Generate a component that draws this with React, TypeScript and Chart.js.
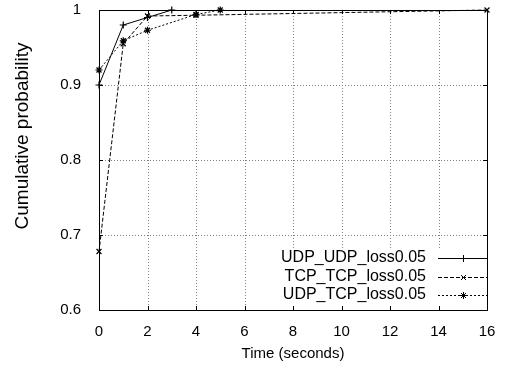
import React, { useEffect, useRef } from "react";
import { Chart, registerables } from "chart.js";

Chart.register(...registerables);

const seriesNames = ["UDP_UDP_loss0.05", "TCP_TCP_loss0.05", "UDP_TCP_loss0.05"];
const udpUdpX = [0, 1, 2, 3];
const udpUdpY = [0.9, 0.98, 0.99, 1.0];
const tcpTcpX = [0, 1, 2, 4, 16];
const tcpTcpY = [0.678, 0.955, 0.992, 0.993, 1.0];
const udpTcpX = [0, 1, 2, 4, 5];
const udpTcpY = [0.92, 0.959, 0.973, 0.994, 1.0];
const xTicks = [0, 2, 4, 6, 8, 10, 12, 14, 16];
const yTicks = [0.6, 0.7, 0.8, 0.9, 1];
const xTitle = "Time (seconds)";
const yTitle = "Cumulative probability";

const FONT = "'Liberation Sans', Arial, Helvetica, sans-serif";
const FS = 15;
const dashes = [[], [4, 2], [2, 2]];
const markers = ["cross", "crossRot", "star"];

const toPts = (xs: number[], ys: number[]) => xs.map((x, i) => ({ x, y: ys[i] }));

function drawMarker(c: CanvasRenderingContext2D, style: string, x: number, y: number, r: number) {
  c.beginPath();
  if (style === "cross" || style === "star") {
    c.moveTo(x - r, y);
    c.lineTo(x + r, y);
    c.moveTo(x, y - r);
    c.lineTo(x, y + r);
  }
  if (style === "crossRot" || style === "star") {
    const d = r * 0.7071;
    c.moveTo(x - d, y - d);
    c.lineTo(x + d, y + d);
    c.moveTo(x - d, y + d);
    c.lineTo(x + d, y - d);
  }
  c.stroke();
}

export default function App() {
  const ref = useRef<HTMLCanvasElement>(null);
  useEffect(() => {
    document.body.style.margin = "0";
    const ctx = ref.current!.getContext("2d")!;
    const data = [toPts(udpUdpX, udpUdpY), toPts(tcpTcpX, tcpTcpY), toPts(udpTcpX, udpTcpY)];
    const legBox = { left: 251, top: 248 };

    const plugin = {
      id: "gnuplotStyle",
      beforeDatasetsDraw(chart: any) {
        const c = chart.ctx;
        const a = chart.chartArea;
        const xs = chart.scales.x;
        const ys = chart.scales.y;
        c.save();
        c.strokeStyle = "#808080";
        c.lineWidth = 1;
        c.setLineDash([1, 2]);
        c.beginPath();
        xTicks.slice(1, -1).forEach((t) => {
          const px = Math.round(xs.getPixelForValue(t)) + 0.5;
          const bottom = px > legBox.left ? legBox.top : a.bottom;
          c.moveTo(px, a.top);
          c.lineTo(px, bottom);
        });
        yTicks.slice(1, -1).forEach((t) => {
          const py = Math.round(ys.getPixelForValue(t)) + 0.5;
          c.moveTo(a.left, py);
          c.lineTo(py > legBox.top ? legBox.left : a.right, py);
        });
        c.stroke();
        c.restore();
      },
      afterDraw(chart: any) {
        const c = chart.ctx;
        const a = chart.chartArea;
        const xs = chart.scales.x;
        const ys = chart.scales.y;
        c.save();
        c.strokeStyle = "#000";
        c.lineWidth = 1;
        c.setLineDash([]);
        c.strokeRect(Math.round(a.left) + 0.5, Math.round(a.top) + 0.5, Math.round(a.right - a.left), Math.round(a.bottom - a.top));
        const tl = 4;
        c.beginPath();
        xTicks.forEach((t) => {
          const px = Math.round(xs.getPixelForValue(t)) + 0.5;
          c.moveTo(px, a.bottom);
          c.lineTo(px, a.bottom - tl);
          c.moveTo(px, a.top);
          c.lineTo(px, a.top + tl);
        });
        yTicks.forEach((t) => {
          const py = Math.round(ys.getPixelForValue(t)) + 0.5;
          c.moveTo(a.left, py);
          c.lineTo(a.left + tl, py);
          c.moveTo(a.right, py);
          c.lineTo(a.right - tl, py);
        });
        c.stroke();

        c.fillStyle = "#000";
        c.font = `${FS}px ${FONT}`;
        c.textAlign = "center";
        c.textBaseline = "middle";
        c.fillText(xTitle, (a.left + a.right) / 2, 354);
        c.save();
        c.font = `19px ${FONT}`;
        c.translate(23, 136);
        c.rotate(-Math.PI / 2);
        c.fillText(yTitle, 0, 0);
        c.restore();

        c.font = `16px ${FONT}`;
        const rowsY = [258, 276.5, 295];
        seriesNames.forEach((name, i) => {
          const y = rowsY[i];
          c.textAlign = "right";
          c.fillText(name, 426, y);
          c.beginPath();
          c.setLineDash(dashes[i]);
          c.moveTo(438, Math.round(y) + 0.5);
          c.lineTo(488, Math.round(y) + 0.5);
          c.stroke();
          c.setLineDash([]);
          drawMarker(c, markers[i], 463.5, Math.round(y) + 0.5, 3.5);
        });
        c.restore();
      },
    };

    const chart = new Chart(ctx, {
      type: "line",
      data: {
        datasets: data.map((d, i) => ({
          label: seriesNames[i],
          data: d,
          borderColor: "#000",
          backgroundColor: "#000",
          borderWidth: 1,
          borderDash: dashes[i],
          pointStyle: markers[i] as any,
          pointRadius: 3.5,
          pointBorderColor: "#000",
          pointBorderWidth: 1.2,
          tension: 0,
          fill: false,
        })),
      },
      options: {
        animation: false,
        responsive: false,
        events: [],
        clip: false as any,
        layout: { padding: { left: 0, top: 10, right: 36, bottom: 0 } },
        plugins: { legend: { display: false }, tooltip: { enabled: false } },
        scales: {
          x: {
            type: "linear",
            min: 0,
            max: 16,
            afterFit: (s: any) => { s.height = 58; s.paddingLeft = 0; s.paddingRight = 0; },
            afterBuildTicks: (s: any) => { s.ticks = xTicks.map((v) => ({ value: v })); },
            ticks: { color: "#000", font: { family: FONT, size: FS }, padding: 5, callback: (v: any) => String(v) },
            grid: { display: false },
            border: { display: true, color: "#000", width: 1 },
          } as any,
          y: {
            type: "linear",
            min: 0.6,
            max: 1,
            afterFit: (s: any) => { s.width = 99; s.paddingTop = 0; s.paddingBottom = 0; },
            afterBuildTicks: (s: any) => { s.ticks = yTicks.map((v) => ({ value: v })); },
            ticks: { color: "#000", font: { family: FONT, size: FS }, padding: 10, callback: (v: any) => String(Math.round(v * 10) / 10) },
            grid: { display: false },
            border: { display: true, color: "#000", width: 1 },
          } as any,
        },
      },
      plugins: [plugin],
    });
    return () => chart.destroy();
  }, []);
  return <canvas ref={ref} width={523} height={368} style={{ display: "block" }} />;
}
